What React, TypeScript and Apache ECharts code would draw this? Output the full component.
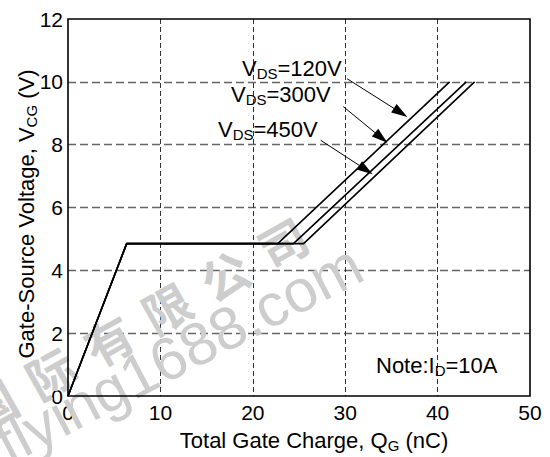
import React, { useEffect, useRef } from "react";
import * as echarts from "echarts";

// ---- data ----
const xTicks = [0, 10, 20, 30, 40, 50];
const yTicks = [0, 2, 4, 6, 8, 10, 12];
const seriesNames = ["120V", "300V", "450V"];
const qg120 = [0, 6.35, 22.7, 41.3];
const vg120 = [0, 4.85, 4.85, 10.0];
const qg300 = [0, 6.35, 24.4, 43.1];
const vg300 = [0, 4.85, 4.85, 10.0];
const qg450 = [0, 6.35, 25.5, 44.0];
const vg450 = [0, 4.85, 4.85, 10.0];
const arrowFromQ = [30.2, 29.8, 27.35];
const arrowFromV = [10.1, 9.21, 8.14];
const arrowToQ = [36.0, 33.9, 32.25];
const arrowToV = [9.02, 8.22, 7.2];
const noteText = ["Note:I", "D", "=10A"];
const xTitle = ["Total Gate Charge, Q", "G", " (nC)"];
const yTitle = ["Gate-Source Voltage, V", "CG", " (V)"];
const wmCn = ["国", "际", "有", "限", "公", "司"];
const wmEn = "flying1688.com";

const FONT = "Arial, 'Liberation Sans', sans-serif";

const rich = {
  n: { fontSize: 22, fontFamily: FONT, fill: "#000", lineHeight: 26 },
  s: { fontSize: 15, fontFamily: FONT, fill: "#000", lineHeight: 15, verticalAlign: "bottom" },
};

function sub(parts: string[]) {
  return `{n|${parts[0]}}{s|${parts[1]}}{n|${parts[2]}}`;
}

export default function App() {
  const ref = useRef<HTMLDivElement>(null);
  useEffect(() => {
    document.body.style.margin = "0";
    if (!ref.current) return;
    const chart = echarts.init(ref.current, null, { renderer: "svg" });
    const qs = [qg120, qg300, qg450];
    const vs = [vg120, vg300, vg450];
    const labelPos = [
      [242, 68],
      [231, 94],
      [218, 129],
    ];
    const series: any[] = seriesNames.map((name, i) => ({
      name,
      type: "line",
      data: qs[i].map((q, j) => [q, vs[i][j]]),
      showSymbol: false,
      symbol: "none",
      lineStyle: { color: "#000", width: 1.6 },
      z: 3,
      markLine: {
        silent: true,
        symbol: ["none", "triangle"],
        symbolSize: [10, 16],
        lineStyle: { color: "#000", width: 1, type: "solid" },
        label: { show: false },
        data: [
          [
            { coord: [arrowFromQ[i], arrowFromV[i]] },
            { coord: [arrowToQ[i], arrowToV[i]] },
          ],
        ],
      },
    }));

    const graphic: any[] = [];
    seriesNames.forEach((name, i) => {
      graphic.push({
        type: "text",
        x: labelPos[i][0],
        y: labelPos[i][1],
        z: 10,
        style: {
          text: sub(["V", "DS", "=" + name]),
          rich,
          align: "left",
          verticalAlign: "middle",
        },
      });
    });
    graphic.push({
      type: "text",
      x: 376,
      y: 365,
      z: 10,
      style: { text: sub(noteText), rich, align: "left", verticalAlign: "middle" },
    });
    graphic.push({
      type: "text",
      x: 314,
      y: 440,
      z: 10,
      style: { text: sub(xTitle), rich, align: "center", verticalAlign: "middle" },
    });
    graphic.push({
      type: "text",
      x: 26,
      y: 214,
      rotation: Math.PI / 2,
      z: 10,
      style: { text: sub(yTitle), rich, align: "center", verticalAlign: "middle" },
    });
    // watermark
    const stepX = 58;
    const stepY = -32.5;
    const ang = Math.atan2(-stepY, stepX);
    wmCn.forEach((c, i) => {
      graphic.push({
        type: "text",
        x: -8 + stepX * i,
        y: 404 + stepY * i,
        rotation: ang,
        z: 1,
        silent: true,
        style: {
          text: c,
          fontSize: 48,
          fontWeight: "bold",
          fontFamily: "'Noto Sans CJK SC'",
          fill: "#cdcdcd",
          align: "center",
          verticalAlign: "middle",
        },
      });
    });
    graphic.push({
      type: "text",
      x: 0,
      y: 447,
      rotation: 0.48,
      z: 1,
      silent: true,
      style: {
        text: wmEn,
        fontSize: 60,
        fontFamily: FONT,
        fill: "#cdcdcd",
        align: "left",
        verticalAlign: "middle",
      },
    });

    chart.setOption({
      animation: false,
      backgroundColor: "#fff",
      grid: {
        left: 68,
        top: 19,
        right: 20,
        bottom: 61,
        show: true,
        borderColor: "#000",
        borderWidth: 1.6,
        backgroundColor: "transparent",
        z: 4,
      },
      xAxis: {
        type: "value",
        min: xTicks[0],
        max: xTicks[xTicks.length - 1],
        interval: xTicks[1] - xTicks[0],
        axisLine: { show: false },
        axisTick: { show: false },
        axisLabel: { color: "#000", fontSize: 21, fontFamily: FONT, margin: 6 },
        splitLine: {
          show: true,
          showMinLine: false,
          showMaxLine: false,
          lineStyle: { color: "#333", width: 1, type: [5, 3] },
        },
      },
      yAxis: {
        type: "value",
        min: yTicks[0],
        max: yTicks[yTicks.length - 1],
        interval: yTicks[1] - yTicks[0],
        axisLine: { show: false },
        axisTick: { show: false },
        axisLabel: { color: "#000", fontSize: 21, fontFamily: FONT, margin: 5 },
        splitLine: {
          show: true,
          showMinLine: false,
          showMaxLine: false,
          lineStyle: { color: "#666", width: 1.3, type: [8, 4] },
        },
      },
      series,
      graphic,
    });
    return () => chart.dispose();
  }, []);
  return <div ref={ref} style={{ width: 550, height: 457 }} />;
}
